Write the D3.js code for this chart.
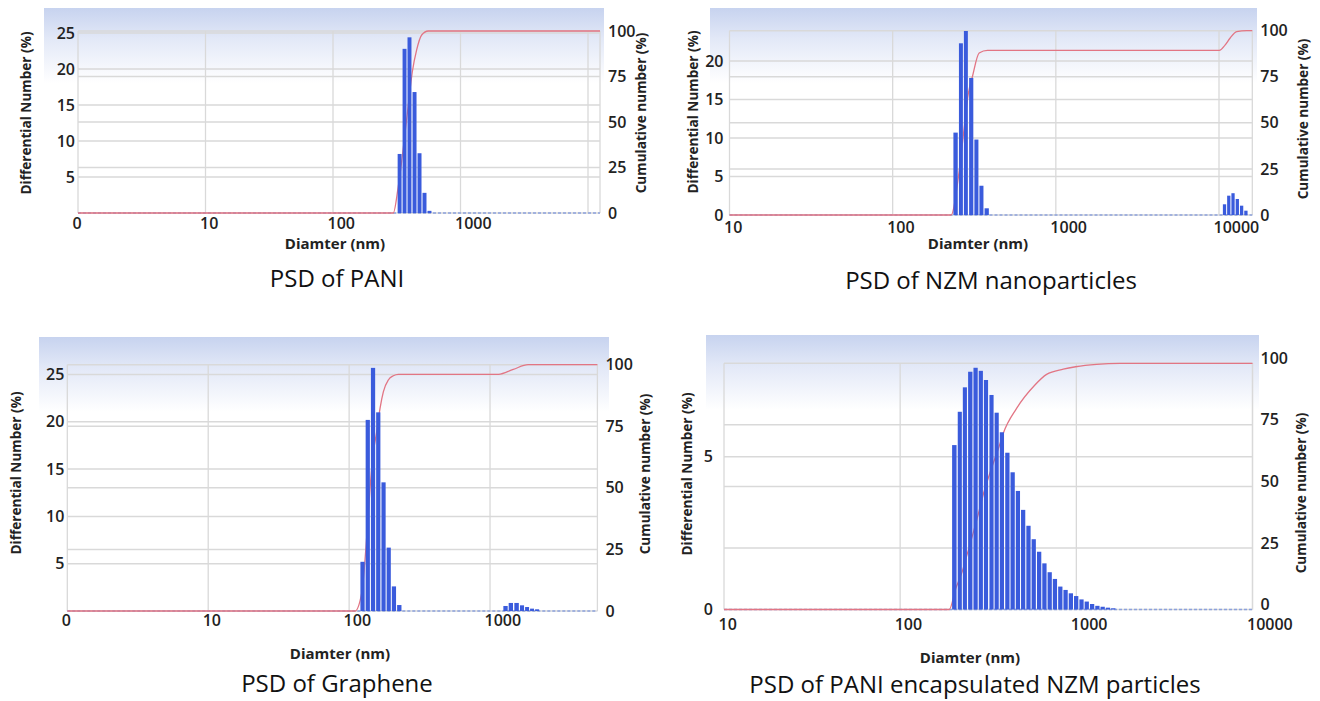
<!DOCTYPE html>
<html>
<head>
<meta charset="utf-8">
<script src="https://cdn.jsdelivr.net/npm/d3@7"></script>
<style>
  body { margin: 0; background: #fff; }
  svg { display: block; font-family: "Open Sans", sans-serif; }
</style>
</head>
<body>
<svg id="chart" width="1320" height="701"></svg>
<script>
// ---- values ----

// PSD of PANI
var paniDiam = [333, 364, 398, 436, 477, 522, 571];
var paniDiff = [8.2, 22.8, 24.4, 16.8, 8.3, 2.8, 0.3];
var paniCumDiam = [297, 325, 383, 419, 453, 496, 559];
var paniCum = [0, 14.5, 54.8, 77.6, 89.6, 97.8, 100];
var paniXTicks = [1, 10, 100, 1000];
var paniXLabels = ["0", "10", "100", "1000"];
var paniYTicks = [5, 10, 15, 20, 25];

// PSD of NZM nanoparticles
var nzmDiam = [243, 262, 281, 303, 326, 350, 377, 10810, 11480, 12190, 12950, 13760, 14620];
var nzmDiff = [10.7, 22.3, 23.9, 17.8, 9.8, 3.8, 0.87, 1.39, 2.51, 2.83, 2.08, 1.21, 0.56];
var nzmCumDiam = [228, 253, 272, 291, 308, 339, 381, 10040, 10890, 11680, 12830, 14780];
var nzmCum = [0, 20.8, 44.4, 66, 75, 87.9, 89.3, 89.3, 92.2, 95.9, 99.5, 100];
var nzmXTicks = [10, 100, 1000, 10000];
var nzmXLabels = ["10", "100", "1000", "10000"];
var nzmYTicks = [0, 5, 10, 15, 20];

// PSD of Graphene
var grDiam = [124.5, 135.6, 147.8, 161, 175.5, 191, 208, 227, 1288, 1405, 1543, 1687, 1832, 1987, 2158];
var grDiff = [5.2, 20.2, 25.7, 21.0, 13.6, 6.7, 2.6, 0.63, 0.53, 0.85, 0.85, 0.6, 0.42, 0.25, 0.18];
var grCumDiam = [110, 122.7, 148.6, 157, 165.7, 174.9, 189.8, 205.9, 223.4, 1149, 1462, 1862];
var grCum = [0, 7.2, 64.7, 72.8, 82.3, 89, 93.8, 95.5, 96.1, 96.1, 98.1, 100];
var grXTicks = [1, 10, 100, 1000];
var grXLabels = ["0", "10", "100", "1000"];
var grYTicks = [5, 10, 15, 20, 25];

// PSD of PANI encapsulated NZM particles
var encDiam = [203, 218, 233, 250, 268, 287, 307, 330, 353, 378, 406, 435, 466, 499, 535, 573,
               615, 659, 706, 756, 811, 869, 931, 998, 1070, 1146, 1229, 1317, 1411, 1512, 1621];
var encDiff = [5.38, 6.47, 7.27, 7.78, 7.91, 7.81, 7.51, 7.02, 6.44, 5.80, 5.13, 4.49, 3.88, 3.26, 2.74, 2.30,
               1.89, 1.51, 1.22, 1.00, 0.75, 0.64, 0.53, 0.44, 0.33, 0.26, 0.18, 0.12, 0.09, 0.06, 0.04];
var encCumDiam = [190, 207, 225, 241.5, 260, 277.5, 296.5, 337.5, 364, 385, 458, 582, 678, 843, 991, 1303, 1766];
var encCum = [0, 8.6, 15.4, 23.1, 31.2, 38.7, 46.8, 59.4, 66.1, 71.6, 81.7, 91.2, 95.5, 97.6, 98.6, 99.6, 100];
var encXTicks = [10, 100, 1000, 10000];
var encXLabels = ["10", "100", "1000", "10000"];
var encYTicks = [0, 5];

var cumTicks = [0, 25, 50, 75, 100];

// ---- layout of each panel ----
var panels = [
  { caption: "PSD of PANI", diam: paniDiam, diff: paniDiff, cumDiam: paniCumDiam, cum: paniCum,
    xTicks: paniXTicks, xLabels: paniXLabels, yTicks: paniYTicks,
    xDomain: [1, 12420], xGrid: [1, 10, 100, 1000, 10000],
    left: 78, right: 600, top: 31, bottom: 213, yRef: [25, 33], yGap: 3, xLabelDy: 10.5, rShift: 0,
    band: [44, 604, 8], yTitle: [25, 113], cTitle: [640, 113], xTitle: [335, 243], cap: [337, 287] },
  { caption: "PSD of NZM nanoparticles", diam: nzmDiam, diff: nzmDiff, cumDiam: nzmCumDiam, cum: nzmCum,
    xTicks: nzmXTicks, xLabels: nzmXLabels, yTicks: nzmYTicks,
    xDomain: [10, 16000], xGrid: [10, 100, 1000, 10000],
    left: 729.5, right: 1252.3, top: 30.7, bottom: 215, yRef: [20, 61], yGap: 6, xLabelDy: 12, rShift: 0,
    band: [710, 1257, 8], yTitle: [692, 112], cTitle: [1302, 119], xTitle: [978, 243], cap: [991, 289] },
  { caption: "PSD of Graphene", diam: grDiam, diff: grDiff, cumDiam: grCumDiam, cum: grCum,
    xTicks: grXTicks, xLabels: grXLabels, yTicks: grYTicks,
    xDomain: [1, 5780], xGrid: [1, 10, 100, 1000],
    left: 67.3, right: 597.4, top: 364.7, bottom: 611, yRef: [25, 374.5], yGap: 3, xLabelDy: 9, rShift: 0,
    band: [39, 609, 337], yTitle: [15, 473], cTitle: [644, 474], xTitle: [340, 653], cap: [337, 692] },
  { caption: "PSD of PANI encapsulated NZM particles", diam: encDiam, diff: encDiff, cumDiam: encCumDiam, cum: encCum,
    xTicks: encXTicks, xLabels: encXLabels, yTicks: encYTicks,
    xDomain: [10, 10000], xGrid: [10, 100, 1000, 10000],
    left: 724, right: 1252.5, top: 363.3, bottom: 609.5, yRef: [5, 456.7], yGap: 11, xLabelDy: 15, rShift: -5,
    band: [706, 1259, 335], yTitle: [686, 474], cTitle: [1300, 493], xTitle: [970, 657], cap: [975, 693] }
];

var barColor = "#3a5bdc",
    cumColor = "#e27584",
    gridColor = "#d9d9d9",
    textColor = "#222";

var svg = d3.select("#chart");

// light blue header wash used by the instrument software
var grad = svg.append("defs").append("linearGradient")
  .attr("id", "hdr").attr("x1", 0).attr("y1", 0).attr("x2", 0).attr("y2", 1);
grad.append("stop").attr("offset", "0%").attr("stop-color", "#c7d3ef");
grad.append("stop").attr("offset", "40%").attr("stop-color", "#e2e8f7");
grad.append("stop").attr("offset", "100%").attr("stop-color", "#ffffff");

panels.forEach(function(p) {
  var g = svg.append("g");

  var x = d3.scaleLog().domain(p.xDomain).range([p.left, p.right]);
  var yL = d3.scaleLinear().domain([0, p.yRef[0]]).range([p.bottom, p.yRef[1]]);
  var yR = d3.scaleLinear().domain([0, 100]).range([p.bottom, p.top]);

  // header band
  g.append("rect")
    .attr("x", p.band[0]).attr("y", p.band[2])
    .attr("width", p.band[1] - p.band[0]).attr("height", 75)
    .attr("fill", "url(#hdr)");

  // horizontal grid: cumulative ticks and differential ticks
  g.append("g").selectAll("line")
    .data(cumTicks)
    .enter().append("line")
    .attr("x1", p.left).attr("x2", p.right)
    .attr("y1", (d) => yR(d)).attr("y2", (d) => yR(d))
    .attr("stroke", gridColor).attr("stroke-width", 1.5);

  g.append("g").selectAll("line")
    .data(p.yTicks.filter((d) => d > 0))
    .enter().append("line")
    .attr("x1", p.left).attr("x2", p.right)
    .attr("y1", (d) => yL(d)).attr("y2", (d) => yL(d))
    .attr("stroke", gridColor).attr("stroke-width", 1.5);

  // vertical grid at decades + right border
  g.append("g").selectAll("line")
    .data(p.xGrid.concat([p.xDomain[1]]))
    .enter().append("line")
    .attr("x1", (d) => x(d)).attr("x2", (d) => x(d))
    .attr("y1", p.top).attr("y2", p.bottom)
    .attr("stroke", gridColor).attr("stroke-width", 1.3);

  // dashed zero line (empty bins)
  g.append("line")
    .attr("x1", p.left).attr("x2", p.right)
    .attr("y1", p.bottom).attr("y2", p.bottom)
    .attr("stroke", "#8da2dd").attr("stroke-width", 1.5)
    .attr("stroke-dasharray", "3,2");

  // cumulative curve, drawn behind the bars
  var pts = p.cumDiam.map((d, i) => [d, p.cum[i]]);
  pts.unshift([p.xDomain[0], p.cum[0]]);
  pts.push([p.xDomain[1], p.cum[p.cum.length - 1]]);
  g.append("path")
    .datum(pts)
    .attr("fill", "none")
    .attr("stroke", cumColor)
    .attr("stroke-width", 1.3)
    .attr("d", d3.line()
      .x((d) => x(d[0]))
      .y((d) => yR(d[1]))
      .curve(d3.curveMonotoneX));

  // bars: each bin spans half the log distance to its nearest neighbour
  var logs = p.diam.map(Math.log10);
  var half = logs.map((l, i) => {
    var ds = [];
    if (i > 0) ds.push(l - logs[i - 1]);
    if (i < logs.length - 1) ds.push(logs[i + 1] - l);
    return d3.min(ds) / 2;
  });
  g.append("g").selectAll("rect")
    .data(p.diff)
    .enter().append("rect")
    .attr("x", (d, i) => x(Math.pow(10, logs[i] - half[i])) + 0.5)
    .attr("width", (d, i) => Math.max(x(Math.pow(10, logs[i] + half[i])) - x(Math.pow(10, logs[i] - half[i])) - 1, 0.5))
    .attr("y", (d) => yL(d))
    .attr("height", (d) => p.bottom - yL(d))
    .attr("fill", barColor);

  // axes
  var xAxis = g.append("g")
    .attr("transform", "translate(0," + (p.bottom + p.xLabelDy) + ")")
    .call(d3.axisBottom(x).tickValues(p.xTicks).tickFormat((d, i) => p.xLabels[i]).tickSize(0));
  xAxis.select(".domain").remove();
  xAxis.selectAll("text")
    .attr("y", 0).attr("dy", "0.35em")
    .attr("text-anchor", "start").attr("dx", -6);

  var lAxis = g.append("g")
    .attr("transform", "translate(" + (p.left - p.yGap) + ",0)")
    .call(d3.axisLeft(yL).tickValues(p.yTicks).tickFormat(d3.format("d")).tickSize(0).tickPadding(0));
  lAxis.select(".domain").remove();

  var rAxis = g.append("g")
    .attr("transform", "translate(" + (p.right + 8) + "," + p.rShift + ")")
    .call(d3.axisRight(yR).tickValues(cumTicks).tickFormat(d3.format("d")).tickSize(0).tickPadding(0));
  rAxis.select(".domain").remove();

  [xAxis, lAxis, rAxis].forEach((a) => {
    a.attr("font-family", "'Open Sans', sans-serif")
      .attr("font-size", 16)
      .attr("font-weight", 600);
    a.selectAll("text").attr("fill", textColor);
  });

  // axis titles
  g.append("text")
    .attr("transform", "translate(" + p.yTitle[0] + "," + p.yTitle[1] + ") rotate(-90)")
    .attr("text-anchor", "middle").attr("dominant-baseline", "central")
    .attr("font-size", 13.6).attr("font-weight", 700).attr("fill", textColor)
    .text("Differential Number (%)");

  g.append("text")
    .attr("transform", "translate(" + p.cTitle[0] + "," + p.cTitle[1] + ") rotate(-90)")
    .attr("text-anchor", "middle").attr("dominant-baseline", "central")
    .attr("font-size", 13.6).attr("font-weight", 700).attr("fill", textColor)
    .text("Cumulative number (%)");

  g.append("text")
    .attr("x", p.xTitle[0]).attr("y", p.xTitle[1])
    .attr("text-anchor", "middle").attr("dominant-baseline", "central")
    .attr("font-size", 15).attr("font-weight", 700).attr("fill", textColor)
    .text("Diamter (nm)");

  // caption under each plot
  g.append("text")
    .attr("x", p.cap[0]).attr("y", p.cap[1])
    .attr("text-anchor", "middle")
    .attr("font-size", 24).attr("fill", "#111")
    .text(p.caption);
});
</script>
</body>
</html>
